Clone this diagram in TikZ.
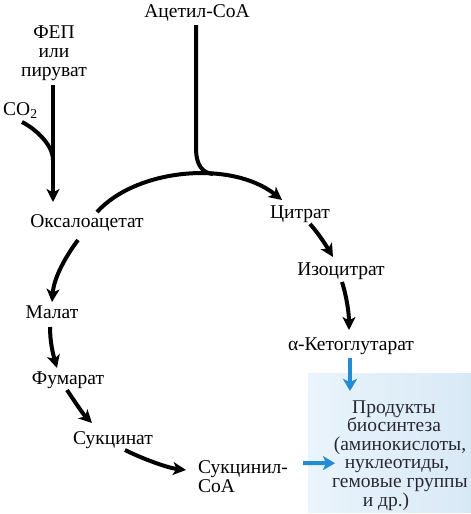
\documentclass[tikz,border=0pt]{standalone}
\usepackage{fontspec}
\setmainfont{Liberation Serif}
\usetikzlibrary{arrows.meta,calc}
\definecolor{arrowblue}{RGB}{35,140,210}
\definecolor{boxl}{RGB}{234,244,251}
\definecolor{boxr}{RGB}{216,233,246}
\definecolor{prodtext}{RGB}{40,40,50}
\tikzset{
  lbl/.style={font=\fontsize{19.5}{19.5}\selectfont, inner sep=0pt, anchor=base},
  flow/.style={line width=4pt, -{Stealth[length=13pt,width=13pt,inset=3.5pt]}},
  plainline/.style={line width=4pt},
  bflow/.style={line width=4pt, draw=arrowblue, -{Stealth[length=12pt,width=14pt,inset=3pt]}, color=arrowblue},
  prodbox/.style={draw=none, left color=boxl, right color=boxr, minimum width=163pt, minimum height=139pt, inner sep=0pt, anchor=north west},
  prodlbl/.style={font=\fontsize{19.5}{18.6}\selectfont, inner sep=0pt, anchor=base, text=prodtext}
}
\begin{document}
\begin{tikzpicture}[x=1pt,y=-1pt]
\useasboundingbox (0,0) rectangle (471,514);
% background box
\node[prodbox] (box) at (308,373) {};
% labels
\node[lbl] (acoa) at (197,17) {Ацетил-СоА};
\node[lbl] (fep) at (54,38) {ФЕП};
\node[lbl] (ili) at (54,57) {или};
\node[lbl] (pir) at (54,76) {пируват};
\node[lbl, anchor=base west] (co2) at (3,115) {CO\textsubscript{2}};
\node[lbl] (ox) at (87,227) {Оксалоацетат};
\node[lbl] (cit) at (300,218) {Цитрат};
\node[lbl] (iso) at (341,275) {Изоцитрат};
\node[lbl] (akg) at (351,350) {α-Кетоглутарат};
\node[lbl] (mal) at (52,318) {Малат};
\node[lbl] (fum) at (68,384) {Фумарат};
\node[lbl] (suc) at (113,444) {Сукцинат};
\node[lbl, anchor=base west] (sca) at (198,473) {Сукцинил-};
\node[lbl, anchor=base west] (sca2) at (198,492) {СоА};
% product text
\node[prodlbl] (p1) at (394,413) {Продукты};
\node[prodlbl] (p2) at (394,431.6) {биосинтеза};
\node[prodlbl] (p3) at (400,450.2) {(аминокислоты,};
\node[prodlbl] (p4) at (397,468.8) {нуклеотиды,};
\node[prodlbl] (p5) at (400,487.4) {гемовые группы};
\node[prodlbl] (p6) at (386,506) {и др.)};
% join point of CO2
\coordinate (co2join) at (53,160);
% connectors
\draw[flow] ($(pir.base)+(-1,9)$) -- ($(ox.base)+(-34,-25)$);
\draw[plainline] ($(co2.base west)+(19,7)$) .. controls +(12,6) and +(0,-16) .. (co2join);
\draw[plainline] ($(acoa.base)+(-1,8)$) -- ++(0,123) .. controls +(0,18) and +(-10,-1) .. ++(17,26);
\draw[flow] ($(ox.base)+(10,-15)$) .. controls +(40,-44) and +(-50,-40) .. ($(cit.base)+(-18,-18)$);
\draw[flow] ($(cit.base)+(10,6)$) .. controls +(9,10) and +(-6,-10) .. ($(iso.base)+(-8,-18)$);
\draw[flow] ($(iso.base)+(1,7)$) .. controls +(5,16) and +(0,-16) .. ($(akg.base)+(-2,-20)$);
\draw[flow] ($(ox.base)+(-9,13)$) .. controls +(-12,16) and +(2,-25) .. ($(mal.base)+(0,-16)$);
\draw[flow] ($(mal.base)+(-2,9)$) .. controls +(0,15) and +(-4,-14) .. ($(fum.base)+(-11,-16)$);
\draw[flow] ($(fum.base)+(-1,6)$) .. controls +(8,12) and +(-9,-9) .. ($(suc.base)+(-21,-21)$);
\draw[flow] ($(suc.base)+(12,6)$) .. controls +(18,9) and +(-18,-2) .. ($(sca.base west)+(-12,-3)$);
\draw[bflow] ($(akg.base)+(-1,8)$) -- ($(box.north west)+(42,18)$);
\draw[bflow] ($(sca.base west)+(105,-10)$) -- ($(box.west)+(27,20.5)$);
\end{tikzpicture}
\end{document}
